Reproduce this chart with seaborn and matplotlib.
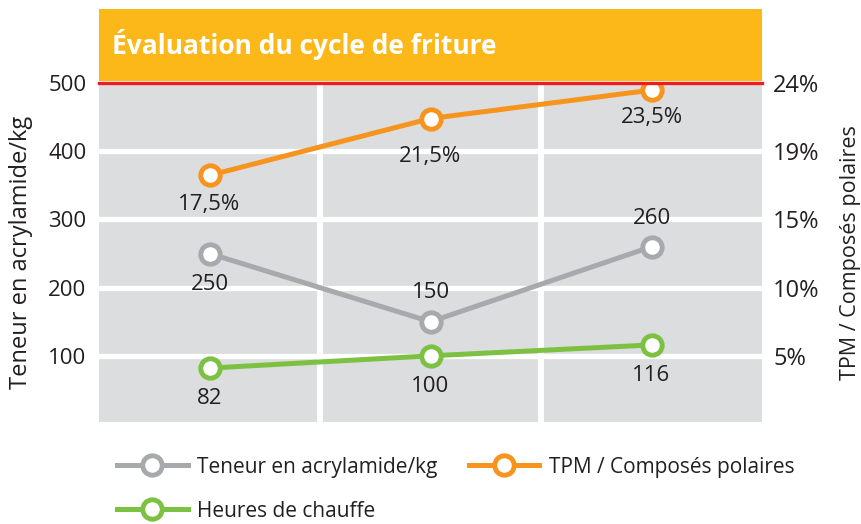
import matplotlib
matplotlib.use('Agg')

import pandas as pd
import numpy as np
import seaborn as sns
import matplotlib.pyplot as plt
from matplotlib.lines import Line2D

# data
cycles = [0, 1, 2]
acrylamide = [250, 150, 260]
heures = [82, 100, 116]
tpm = [17.5, 21.5, 23.5]

left_ticks = [100, 200, 300, 400, 500]
right_ticks = [4.8, 9.6, 14.4, 19.2, 24]
right_labels = ['5%', '10%', '15%', '19%', '24%']

c_grey = '#a7a9ac'
c_orange = '#f7941d'
c_green = '#7dc142'
c_bg = '#dcdddf'
c_band = '#fbb818'
c_red = '#ed1c24'
c_text = '#231f20'

plt.rcParams['font.family'] = ['Open Sans', 'DejaVu Sans']

df = pd.DataFrame({'cycle': cycles, 'acryl': acrylamide, 'heures': heures, 'tpm': tpm})

fig = plt.figure(figsize=(8.62, 5.24), dpi=100)
ax = fig.add_axes([99 / 862, (524 - 422) / 524, (762 - 99) / 862, (422 - 83) / 524])
ax2 = ax.twinx()

ax.set_facecolor(c_bg)
ax.set_xlim(-0.5, 2.5)
ax.set_ylim(3, 500)
ax2.set_ylim(3 / 500 * 24, 24)

# white grid
for v in [100, 200, 300, 400]:
    ax.axhline(v, color='white', lw=3.8, zorder=1)
for v in [0.5, 1.5]:
    ax.axvline(v, color='white', lw=4.2, zorder=1)

style = dict(lw=3.6, marker='o', markersize=14, markerfacecolor='white',
             markeredgewidth=3.5, sort=False, legend=False)
sns.lineplot(data=df, x='cycle', y='acryl', ax=ax, color=c_grey, zorder=3,
             markeredgecolor=c_grey, **style)
sns.lineplot(data=df, x='cycle', y='heures', ax=ax, color=c_green, zorder=3,
             markeredgecolor=c_green, **style)
sns.lineplot(data=df, x='cycle', y='tpm', ax=ax2, color=c_orange, zorder=3,
             markeredgecolor=c_orange, **style)

# value labels
lab = dict(ha='center', va='center', fontsize=16, color=c_text)
for x, v, off in zip(cycles, acrylamide, [-22, 21, 20]):
    ax.annotate(str(v), (x, v), xytext=(0, off), textcoords='offset points', **lab)
for x, v in zip(cycles, heures):
    ax.annotate(str(v), (x, v), xytext=(0, -22), textcoords='offset points', **lab)
for x, v, off in zip(cycles, tpm, [-21, -27, -20]):
    ax2.annotate(f'{v:.1f}%'.replace('.', ','), (x, v), xytext=(0, off),
                 textcoords='offset points', **lab)

for a in (ax, ax2):
    for s in a.spines.values():
        s.set_visible(False)
    a.tick_params(length=0, colors=c_text)
    a.set_xticks([])
ax.set_yticks(left_ticks)
ax.tick_params(axis='y', pad=9, labelsize=16)
ax2.set_yticks(right_ticks)
ax2.set_yticklabels(right_labels)
ax2.tick_params(axis='y', pad=8, labelsize=17)
ax.set_xlabel('')
ax.set_ylabel('Teneur en acrylamide/kg', fontsize=17, color=c_text, labelpad=11)
ax2.set_ylabel('TPM / Composés polaires', fontsize=15.5, color=c_text, rotation=90, labelpad=15)

# title band
band = fig.add_axes([99 / 862, (524 - 81) / 524, (762 - 99) / 862, 72 / 524])
band.set_facecolor(c_band)
band.set_xticks([])
band.set_yticks([])
for s in band.spines.values():
    s.set_visible(False)
band.text(0.02, 0.5, 'Évaluation du cycle de friture', transform=band.transAxes,
          color='white', fontsize=19, fontweight='bold', va='center', ha='left')
fig.add_artist(Line2D([99 / 862, 762 / 862], [(524 - 82.5) / 524] * 2,
                      color=c_red, lw=2.4, transform=fig.transFigure))

# legend
def handle(c):
    return Line2D([], [], color=c, lw=3.6, marker='o', markersize=14,
                  markerfacecolor='white', markeredgecolor=c, markeredgewidth=3.5)

fig.legend([handle(c_grey), handle(c_green), handle(c_orange)],
           ['Teneur en acrylamide/kg', 'Heures de chauffe', 'TPM / Composés polaires'],
           ncol=2, loc='upper left', bbox_to_anchor=(98 / 862, 1 - 438 / 524),
           frameon=False, fontsize=15, handlelength=3.4, handletextpad=0.45,
           labelspacing=1.1, columnspacing=1.5, labelcolor=c_text)

fig.savefig('out.png', dpi=100)
